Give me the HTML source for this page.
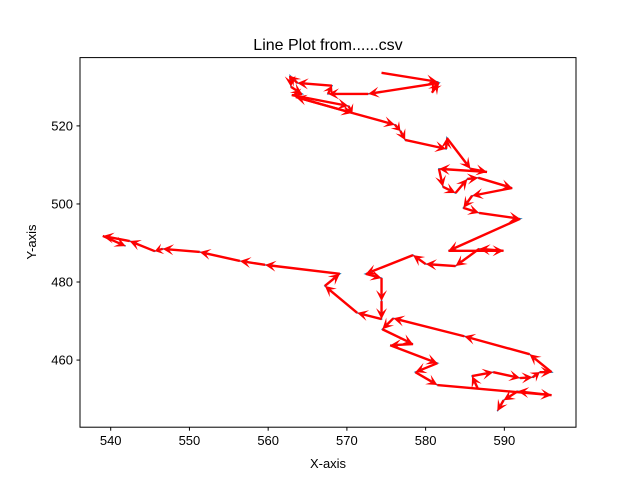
<!DOCTYPE html>
<html><head><meta charset="utf-8"><style>
body{margin:0;background:#fff;}
svg{display:block;font-family:"Liberation Sans","DejaVu Sans",sans-serif;}
</style></head><body>
<svg id="chart" width="640" height="480" viewBox="0 0 640 480">
<rect width="640" height="480" fill="#fff"/>
<g id="plot"></g>
<rect x="80" y="57.6" width="496" height="369.6" fill="none" stroke="#000" stroke-width="1"/>
<g id="xticks"></g>
<g id="yticks"></g>
<text x="328" y="50" text-anchor="middle" font-size="16">Line Plot from......csv</text>
<text x="328" y="468" text-anchor="middle" font-size="13">X-axis</text>
<text transform="translate(36,242) rotate(-90)" text-anchor="middle" font-size="13">Y-axis</text>
</svg>
<script>
const xTicks=[540,550,560,570,580,590];
const yTicks=[460,480,500,520];
const pathAX=[574.4,581.5,580.8,581.7,572.7,567.6,568.1,563.7,562.8,562.9,564.3,563.0,570.2,570.7,563.5,570.7,576.1,576.8,577.4,582.6,582.7,585.7,587.8,581.7,582.2,583.8,585.3,586.7,591.0,585.9,584.8,586.8,592.0,582.9,589.9,586.8,583.8,580.0,578.4,572.4,574.4,574.4,574.4,571.3,567.2,569.1,559.6,556.4,551.3,546.6,545.6,542.4,539.0,541.9];
const pathAY=[533.6,531.3,528.5,531.0,528.2,528.2,530.3,531.0,532.8,530.0,528.2,527.9,525.1,523.3,527.4,523.3,520.3,518.7,516.4,514.1,516.9,509.0,508.2,509.0,504.4,502.8,506.4,506.7,504.1,502.1,499.0,497.7,496.2,488.0,488.0,488.5,484.1,484.6,486.9,482.1,481.0,475.1,470.5,472.1,479.0,482.1,484.4,485.4,487.7,488.5,487.9,490.5,491.8,489.2];
const pathBX=[586.6,585.9,588.6,592.0,593.6,594.5,596.0,593.2,584.9,575.9,574.5,578.4,575.5,581.5,578.7,581.5,596.0,591.7,589.9,589.1];
const pathBY=[452.8,455.9,456.9,455.4,455.6,456.9,456.9,461.5,466.1,470.7,467.9,464.1,463.8,459.2,456.9,453.6,451.0,452.0,449.7,446.9];

const X0=80,X1=576,Y0=427.2,Y1=57.6;
const xMin=536.1,xMax=599.1,yMin=442.8,yMax=537.5;
function sx(v){return X0+(v-xMin)/(xMax-xMin)*(X1-X0);}
function sy(v){return Y0-(v-yMin)/(yMax-yMin)*(Y0-Y1);}
const NS="http://www.w3.org/2000/svg";
function mk(tag,attrs,parent){const e=document.createElementNS(NS,tag);for(const k in attrs)e.setAttribute(k,attrs[k]);parent.appendChild(e);return e;}

const xg=document.getElementById('xticks');
xTicks.forEach(t=>{
  const l=mk('line',{x1:sx(t),x2:sx(t),y1:427.2,y2:430.7,stroke:'#000'},xg);
  
  
  const tx=mk('text',{x:sx(t),y:445,'text-anchor':'middle','font-size':'13'},xg);
  tx.textContent=t;
  
  
});
const yg=document.getElementById('yticks');
yTicks.forEach(t=>{
  const l=mk('line',{x1:76.5,x2:80,y1:sy(t),y2:sy(t),stroke:'#000'},yg);
  
  
  const tx=mk('text',{x:73,y:sy(t)+4.5,'text-anchor':'end','font-size':'13'},yg);
  tx.textContent=t;
  
  
});

const pg=document.getElementById('plot');
function drawSeries(xs,ys,name){
  const pts=xs.map((v,i)=>sx(v)+','+sy(ys[i])).join(' ');
  const pl=mk('polyline',{points:pts,fill:'none',stroke:'#1f77b4','stroke-width':1.5},pg);
  
  
  for(let i=0;i<xs.length-1;i++){
    const ax=sx(xs[i]),ay=sy(ys[i]),bx=sx(xs[i+1]),by=sy(ys[i+1]);
    const dx=bx-ax,dy=by-ay,len=Math.hypot(dx,dy);if(len<0.5)continue;
    const ux=dx/len,uy=dy/len,hl=Math.min(11,len),hw=5.5;
    const g=mk('g',{},pg);
    
    
    mk('line',{x1:ax,y1:ay,x2:bx-ux*hl*0.6,y2:by-uy*hl*0.6,stroke:'#ff0000','stroke-width':2.4},g);
    const px=-uy,py=ux,cx=bx-ux*hl,cy=by-uy*hl;
    mk('polygon',{points:`${bx},${by} ${cx+px*hw},${cy+py*hw} ${bx-ux*hl*0.55},${by-uy*hl*0.55} ${cx-px*hw},${cy-py*hw}`,fill:'#ff0000'},g);
  }
}
drawSeries(pathAX,pathAY,'path-a');
drawSeries(pathBX,pathBY,'path-b');
</script>
</body></html>
